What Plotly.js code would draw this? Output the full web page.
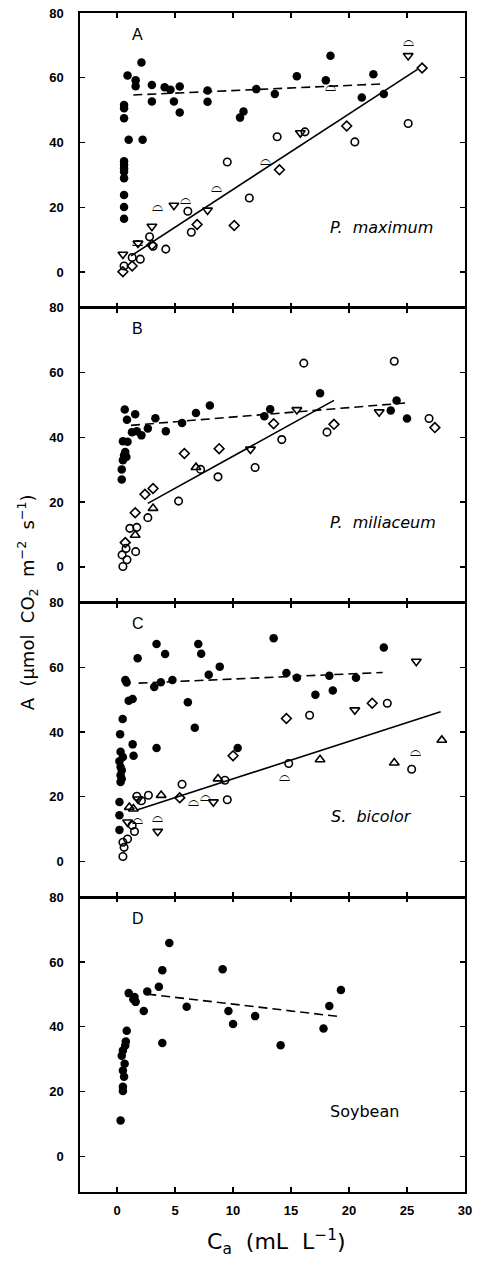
<!DOCTYPE html>
<html>
<head>
<meta charset="utf-8">
<script src="https://cdn.plot.ly/plotly-3.0.1.min.js"></script>
<style>html,body{margin:0;padding:0;background:#fff;}#chart{width:482px;height:1261px;}</style>
</head>
<body>
<div id="chart"></div>
<script>
// ---- Panel A : P. maximum ----
const filledA_x = [0.6,0.6,0.9,0.6,1.0,1.6,1.6,2.1,2.2,3.0,3.0,4.1,4.6,4.9,5.4,5.4,7.8,7.8,10.6,10.9,12.0,13.6,15.5,18.0,18.4,21.1,22.1,23.0,0.6,0.6,0.6,0.6,0.6,0.6,0.6,0.6];
const filledA_y = [51.6,47.5,60.7,50.6,40.9,59.2,57.4,64.7,40.9,57.8,52.7,57.1,56.3,52.7,57.3,49.3,56.1,52.6,47.7,49.6,56.5,55.0,60.5,59.2,66.8,53.9,61.1,55.0,34.2,33.1,32.1,31.0,29.0,23.8,20.1,16.5];
const circleA_x = [13.8,16.2,20.5,25.1,9.5,11.4,6.4,6.1,4.2,2.8,3.1,2.0,1.3,0.6];
const circleA_y = [41.8,43.3,40.2,45.9,34.0,22.9,12.3,18.8,7.1,10.9,8.0,4.0,4.5,1.9];
const diamondA_x = [19.8,26.3,14.0,10.1,6.9,3.0,1.3,0.5];
const diamondA_y = [45.1,63.0,31.6,14.4,14.7,8.4,1.9,0.1];
const tdownA_x = [15.8,25.1,7.8,4.9,3.0,1.8,0.5];
const tdownA_y = [43.0,66.8,19.1,20.6,14.1,8.9,5.5];
const semiA_x = [18.4,25.1,12.8,8.6,5.9,3.5,1.8];
const semiA_y = [57.1,70.8,34.0,25.8,22.2,19.9,9.3];
const solidA_x = [1.2,25.9], solidA_y = [5.0,62.6];
const dashA_x = [1.4,22.9], dashA_y = [54.7,58.1];

// ---- Panel B : P. miliaceum ----
const filledB_x = [0.66,0.85,1.56,0.5,0.9,1.28,1.7,2.1,2.65,3.3,4.2,5.6,6.8,8.0,12.7,13.2,17.5,23.6,24.1,25.0,0.6,0.8,0.5,0.4,0.4,0.7];
const filledB_y = [48.6,45.4,47.1,38.8,38.6,41.6,41.9,40.6,42.7,45.9,41.9,44.4,47.5,49.8,46.5,48.7,53.6,48.3,51.4,45.8,34.5,33.9,32.9,30.1,27.0,35.5];
const circleB_x = [16.1,23.9,14.2,18.1,26.9,7.2,8.7,11.9,5.3,2.65,1.7,1.1,1.6,0.77,0.43,0.85,0.5];
const circleB_y = [62.9,63.5,39.3,41.6,45.8,30.1,27.8,30.7,20.3,15.2,12.2,11.9,4.7,5.7,3.7,2.2,0.1];
const diamondB_x = [13.5,18.7,27.4,5.8,8.8,3.1,2.4,1.56,0.7];
const diamondB_y = [44.2,44.0,43.0,35.0,36.5,24.2,22.4,16.7,7.5];
const tdownB_x = [15.5,22.6,11.5];
const tdownB_y = [48.5,47.8,36.3];
const tupB_x = [6.8,3.1,1.56];
const tupB_y = [30.7,18.1,9.8];
const solidB_x = [2.65,18.7], solidB_y = [19.6,51.4];
const dashB_x = [1.2,24.9], dashB_y = [43.7,50.6];

// ---- Panel C : S. bicolor ----
const filledC_x = [1.77,0.71,0.82,1.0,1.34,0.48,0.26,1.34,1.42,3.4,4.14,3.2,3.77,4.77,3.4,6.1,6.7,7.0,7.25,7.9,8.85,10.4,13.5,14.6,15.5,17.1,18.3,18.6,20.6,23.0,0.3,0.5,0.2,0.3,0.4,0.3,0.4,0.3,0.2,0.2,0.2];
const filledC_y = [62.8,56.1,55.3,49.7,50.2,44.0,39.3,36.2,32.7,67.2,64.1,53.9,55.4,56.1,35.1,49.2,41.3,67.2,64.2,57.7,60.2,35.1,69.0,58.2,56.8,51.5,57.4,52.8,56.8,66.1,33.9,32.3,31.0,29.2,28.2,26.7,25.6,24.6,18.4,14.3,9.8];
const circleC_x = [23.3,16.6,14.8,25.4,9.3,5.6,9.5,2.7,1.7,1.3,1.5,0.5,0.9,0.6,0.5,2.1];
const circleC_y = [48.9,45.2,30.3,28.5,25.1,23.9,19.1,20.5,20.2,11.2,9.3,6.0,7.0,4.4,1.6,18.8];
const diamondC_x = [22.0,14.6,10.0,5.4];
const diamondC_y = [48.9,44.2,32.7,19.7];
const tdownC_x = [25.8,20.5,8.3,3.5,1.8,0.9];
const tdownC_y = [61.8,46.8,18.4,9.3,19.3,12.2];
const tupC_x = [17.5,23.9,28.0,8.7,3.8,1.4,1.05];
const tupC_y = [31.5,30.5,37.5,25.6,20.5,16.3,16.8];
const semiC_x = [25.7,14.4,6.6,7.6,3.5,1.8];
const semiC_y = [33.7,26.1,18.4,19.9,13.2,12.7];
const solidC_x = [1.77,27.9], solidC_y = [16.0,46.3];
const dashC_x = [1.85,22.9], dashC_y = [55.1,58.4];

// ---- Panel D : Soybean ----
const filledD_x = [4.5,3.9,9.1,3.6,2.6,1.0,1.5,1.6,1.4,2.3,6.0,9.6,10.0,11.9,14.1,3.9,17.8,18.3,19.3,0.83,0.75,0.7,0.5,0.4,0.65,0.5,0.6,0.5,0.5,0.3];
const filledD_y = [65.9,57.5,57.8,52.4,50.9,50.4,49.2,47.7,48.5,44.9,46.2,44.9,40.9,43.3,34.3,35.0,39.5,46.4,51.4,38.8,35.5,34.2,32.7,31.1,28.6,26.5,24.6,21.5,20.2,11.1];
const dashD_x = [2.6,19.3], dashD_y = [50.1,43.1];

// ---- labels ----
const panelLetters = ['A','B','C','D'];
const speciesNames = ['<i>P.  maximum</i>','<i>P.  miliaceum</i>','<i>S.  bicolor</i>','Soybean'];
const speciesX = [22.8,22.9,21.9,21.3];
const xTicks = [0,5,10,15,20,25,30];
const yTicks = [0,20,40,60,80];

const axSuffix = ['','2','3','4'];
const traces = [];
function sc(i, x, y, sym, size, lw){
  traces.push({type:'scatter',mode:'markers',x:x,y:y,xaxis:'x'+axSuffix[i],yaxis:'y'+axSuffix[i],
    marker:{symbol:sym,size:size,color:'#000',line:{color:'#000',width:lw}},showlegend:false,hoverinfo:'skip'});
}
function semi(i, x, y){
  traces.push({type:'scatter',mode:'text',x:x,y:y,xaxis:'x'+axSuffix[i],yaxis:'y'+axSuffix[i],
    text:x.map(()=> '\u2313'),textposition:'middle center',textfont:{family:'DejaVu Sans',size:14,color:'#000'},showlegend:false,hoverinfo:'skip'});
}
function ln(i, x, y, dash){
  traces.push({type:'scatter',mode:'lines',x:x,y:y,xaxis:'x'+axSuffix[i],yaxis:'y'+axSuffix[i],
    line:{color:'#000',width:1.6,dash:dash},showlegend:false,hoverinfo:'skip'});
}
const dashStyle = '9px,5px';
// A
ln(0,solidA_x,solidA_y,'solid'); ln(0,dashA_x,dashA_y,dashStyle);
sc(0,filledA_x,filledA_y,'circle',8.5,0);
sc(0,circleA_x,circleA_y,'circle-open',7.5,1.6);
sc(0,diamondA_x,diamondA_y,'diamond-open',7.5,1.6);
sc(0,tdownA_x,tdownA_y,'triangle-down-open',8.5,1.6);
semi(0,semiA_x,semiA_y);
// B
ln(1,solidB_x,solidB_y,'solid'); ln(1,dashB_x,dashB_y,dashStyle);
sc(1,filledB_x,filledB_y,'circle',8.5,0);
sc(1,circleB_x,circleB_y,'circle-open',7.5,1.6);
sc(1,diamondB_x,diamondB_y,'diamond-open',7.5,1.6);
sc(1,tdownB_x,tdownB_y,'triangle-down-open',8.5,1.6);
sc(1,tupB_x,tupB_y,'triangle-up-open',8.5,1.6);
// C
ln(2,solidC_x,solidC_y,'solid'); ln(2,dashC_x,dashC_y,dashStyle);
sc(2,filledC_x,filledC_y,'circle',8.5,0);
sc(2,circleC_x,circleC_y,'circle-open',7.5,1.6);
sc(2,diamondC_x,diamondC_y,'diamond-open',7.5,1.6);
sc(2,tdownC_x,tdownC_y,'triangle-down-open',8.5,1.6);
sc(2,tupC_x,tupC_y,'triangle-up-open',8.5,1.6);
semi(2,semiC_x,semiC_y);
// D
ln(3,dashD_x,dashD_y,dashStyle);
sc(3,filledD_x,filledD_y,'circle',8.5,0);

const tickFont = {family:'Liberation Sans, Arial, sans-serif',size:13,color:'#000',weight:'bold'};
const layout = {
  width:482,height:1261,
  margin:{l:80,r:17,t:13,b:69},
  paper_bgcolor:'#fff',plot_bgcolor:'#fff',
  showlegend:false,
  annotations:[]
};
const domains = [[0.75,1],[0.5,0.75],[0.25,0.5],[0,0.25]];
for(let i=0;i<4;i++){
  const s = axSuffix[i];
  layout['xaxis'+s] = {anchor:'y'+s,domain:[0,1],range:[-3.2,30],tickvals:xTicks,ticks:'inside',ticklen:5,tickwidth:1.3,
    tickcolor:'#000',showline:true,linecolor:'#000',linewidth:1.6,mirror:'ticks',showgrid:false,zeroline:false,
    showticklabels:(i===3),tickfont:tickFont,ticklabelstandoff:6};
  layout['yaxis'+s] = {anchor:'x'+s,domain:domains[i],range:[-11,80],tickvals:yTicks,ticks:'inside',ticklen:5,tickwidth:1.3,
    tickcolor:'#000',showline:true,linecolor:'#000',linewidth:1.6,mirror:'ticks',showgrid:false,zeroline:false,
    tickfont:tickFont,ticklabelstandoff:12};
  layout.annotations.push({xref:'x'+s,yref:'y'+s,x:1.8,y:73.5,text:panelLetters[i],showarrow:false,
    font:{family:'Liberation Sans, Arial, sans-serif',size:16,color:'#000'}});
  layout.annotations.push({xref:'x'+s,yref:'y'+s,x:speciesX[i],y:13.8,text:speciesNames[i],showarrow:false,
    font:{family:'DejaVu Sans, sans-serif',size:16,color:'#000'}});
}
layout.annotations.push({xref:'paper',yref:'paper',x:-0.138,y:0.5,xanchor:'center',yanchor:'middle',textangle:-90,showarrow:false,
  text:'A  (\u03BCmol  CO<sub>2</sub>  m<sup>\u22122</sup>  s<sup>\u22121</sup>)',
  font:{family:'DejaVu Sans, sans-serif',size:18,color:'#000'}});
layout.annotations.push({xref:'paper',yref:'paper',x:0.51,y:-0.042,xanchor:'center',yanchor:'middle',showarrow:false,
  text:'C<sub>a</sub>  (mL  L<sup>\u22121</sup>)',
  font:{family:'DejaVu Sans, sans-serif',size:22,color:'#000'}});

Plotly.newPlot('chart',traces,layout,{displayModeBar:false,staticPlot:true});
</script>
</body>
</html>
